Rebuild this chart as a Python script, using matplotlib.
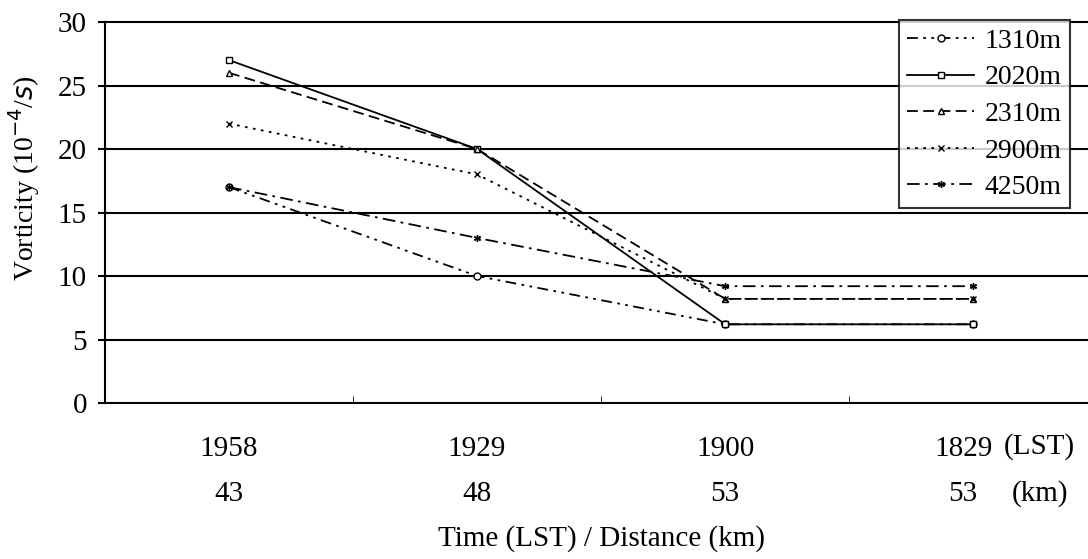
import matplotlib
matplotlib.use('Agg')
import matplotlib.pyplot as plt
import matplotlib.transforms as mtransforms

times = ['1958', '1929', '1900', '1829']
distances = ['43', '48', '53', '53']
heights = ['1310m', '2020m', '2310m', '2900m', '4250m']

v1310 = [17, 10, 6.2, 6.2]
v2020 = [27, 20, 6.2, 6.2]
v2310 = [26, 20, 8.2, 8.2]
v2900 = [22, 18, 8.2, 8.2]
v4250 = [17, 13, 9.2, 9.2]

series = [v1310, v2020, v2310, v2900, v4250]
styles = [
    dict(ls=(0, (6, 3, 1.5, 3, 1.5, 3)), marker='o'),
    dict(ls='-', marker='s'),
    dict(ls=(0, (6, 3)), marker='^'),
    dict(ls=(0, (1.5, 3)), marker='x'),
    dict(ls=(0, (7, 3, 1.5, 3)), marker=(6, 2, 0)),
]

plt.rcParams['font.family'] = ['Liberation Serif', 'DejaVu Serif']

fig = plt.figure(figsize=(10.88, 5.59), dpi=100)
ax = fig.add_axes([0.0965, 0.279, 0.912, 0.6816])

xs = [i + 0.5 for i in range(len(times))]
for name, vals, st in zip(heights, series, styles):
    ax.plot(xs, vals, color='black', lw=1.3, ms=5, mfc='white', mew=1.0,
            label=name, **st)

ax.set_xlim(0, 4)
ax.set_ylim(0, 30)
ax.set_yticks(range(0, 31, 5))
for y in range(5, 30, 5):
    ax.axhline(y, color='black', lw=1.5, zorder=0)

ax.set_xticks(xs)
ax.set_xticklabels([t + '\n' + d for t, d in zip(times, distances)])
ax.set_xticks([1, 2, 3], minor=True)
ax.tick_params(axis='x', which='major', length=0, pad=24, labelsize=21)
ax.tick_params(axis='x', which='minor', direction='in', length=5)
ax.tick_params(axis='y', length=5, width=1.5, labelsize=21, pad=8)
xlbls = ax.get_xticklabels()
for lbl in xlbls:
    lbl.set_linespacing(1.95)
shift = mtransforms.ScaledTranslation(-10 / 100, 0, fig.dpi_scale_trans)
xlbls[-1].set_transform(xlbls[-1].get_transform() + shift)

for side in ['left', 'top', 'bottom']:
    ax.spines[side].set_linewidth(1.5)
ax.spines['right'].set_visible(False)

fig.text(1039 / 1088, 1 - 447 / 559, '(LST)', ha='center', va='center',
         fontsize=21)
fig.text(1040 / 1088, 1 - 494 / 559, '(km)', ha='center', va='center',
         fontsize=21)

ax.set_ylabel('Vorticity (10$^{-4}$/$s$)', fontsize=20)
ax.yaxis.set_label_coords(-0.063, 0.59)
ax.set_xlabel('Time (LST) / Distance (km)', fontsize=21, labelpad=13)

leg = ax.legend(loc='upper right', bbox_to_anchor=(0.973, 1.005), fontsize=20,
                frameon=True, fancybox=False, edgecolor='black',
                handlelength=2.4, labelspacing=0.4, borderpad=0.3,
                handletextpad=0.4, borderaxespad=0)
leg.get_frame().set_linewidth(1.5)

fig.savefig('out.png', dpi=100)
